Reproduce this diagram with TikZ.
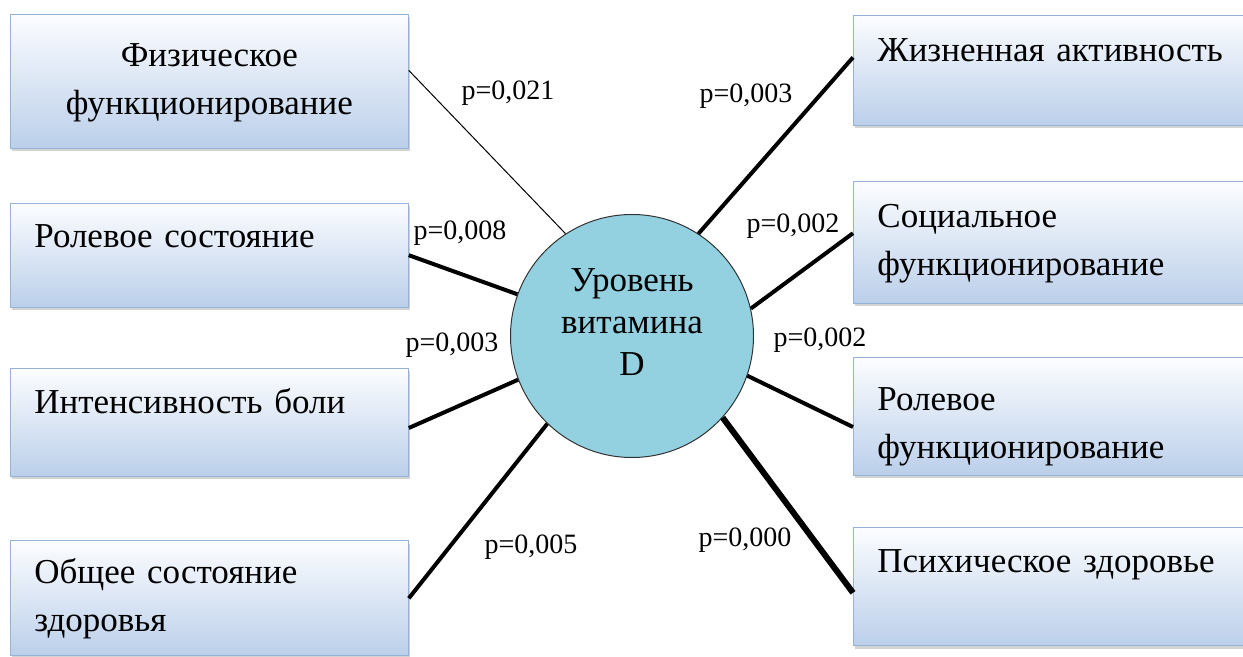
\documentclass[tikz,border=0pt]{standalone}
\usepackage{fontspec}
\setmainfont{Liberation Serif}
\newfontfamily\timesfont[WordSpace=0.8]{Liberation Serif}
\usepackage{tikz}
\usetikzlibrary{shapes,shadows,positioning}
\definecolor{boxtop}{RGB}{252,253,255}
\definecolor{boxbottom}{RGB}{187,207,234}
\definecolor{boxline}{RGB}{149,179,215}
\definecolor{vitfill}{RGB}{147,209,224}
\tikzstyle{factor} = [draw=boxline, rectangle, top color=boxtop, bottom color=boxbottom, anchor=north west, text width=175pt, inner xsep=12pt, inner ysep=2pt, align=left, font=\timesfont\fontsize{17.5}{24}\selectfont, execute at begin node=\strut, execute at end node=\strut, drop shadow={shadow xshift=1pt, shadow yshift=-1.5pt, opacity=.35}]
\tikzstyle{level} = [draw=black!80, line width=0.5pt, circle, fill=vitfill, minimum size=121.5pt, inner sep=0pt]
\tikzstyle{leveltext} = [align=center, inner sep=0pt, font=\timesfont\fontsize{17.5}{21}\selectfont, execute at begin node=\strut, execute at end node=\strut]
\tikzstyle{pval} = [anchor=base, inner sep=0pt, font=\timesfont\fontsize{14}{16}\selectfont]
\tikzstyle{corr} = [line width=2pt]

\begin{document}
\begin{tikzpicture}[x=0.5pt, y=-0.5pt]
        \useasboundingbox (0,0) rectangle (1243,657);

        % left column
        \node [factor, align=center, minimum height=67pt] (fiz) at (10,14) {
            Физическое\\функционирование
        };
        \node [factor, minimum height=51.5pt] [below = 27pt of fiz] (rolsost) {
            \raisebox{-3.5pt}{Ролевое состояние}\\
        };
        \node [factor, minimum height=54pt] [below = 30pt of rolsost] (intens) {
            \raisebox{-3pt}{Интенсивность боли}\\
        };
        \node [factor, minimum height=57.5pt] [below = 32pt of intens] (obshee) {
            Общее состояние\\здоровья
        };

        % right column
        \node [factor, minimum height=55pt] (zhiz) at (853,15) {
            \raisebox{-3pt}{Жизненная активность}\\
        };
        \node [factor, minimum height=61pt] [below = 27.5pt of zhiz] (soc) {
            Социальное\\функционирование
        };
        \node [factor, minimum height=59pt] [below = 26.5pt of soc] (rolfun) {
            \raisebox{-5.5pt}{Ролевое}\\\raisebox{-5.5pt}{функционирование}
        };
        \node [factor, minimum height=59pt] [below = 26pt of rolfun] (psych) {
            Психическое здоровье\\
        };

        % centre
        \node [level] (vitd) at (632,336) {};
        \node [leveltext] (vitdtext) at (632,328) {Уровень\\витамина\\D};

        \draw[line width = 0.5pt] ([yshift=5.5pt]fiz.east) -- (vitd.123);
        \draw[corr] (rolsost.east) -- (vitd.160);
        \draw[corr] ([yshift=-3pt]intens.east) -- (vitd.201);
        \draw[corr] (obshee.east) -- (vitd.226);
        \draw[corr] ([yshift=6.5pt]zhiz.west) -- (vitd.57);
        \draw[corr] ([yshift=4.5pt]soc.west) -- (vitd.13);
        \draw[corr] ([yshift=-5.5pt]rolfun.west) -- (vitd.-19);
        \draw[line width = 3pt] ([yshift=-3pt]psych.west) -- (vitd.-42);

        \node [pval] (pfiz) at (508,100) {p=0,021};
        \node [pval] (prolsost) at (460,240) {p=0,008};
        \node [pval] (pintens) at (452,352) {p=0,003};
        \node [pval] (pobshee) at (531,553) {p=0,005};
        \node [pval] (pzhiz) at (746,103) {p=0,003};
        \node [pval] (psoc) at (793,233) {p=0,002};
        \node [pval] (prolfun) at (820,347) {p=0,002};
        \node [pval] (ppsych) at (745,547) {p=0,000};
    \end{tikzpicture}
\end{document}
